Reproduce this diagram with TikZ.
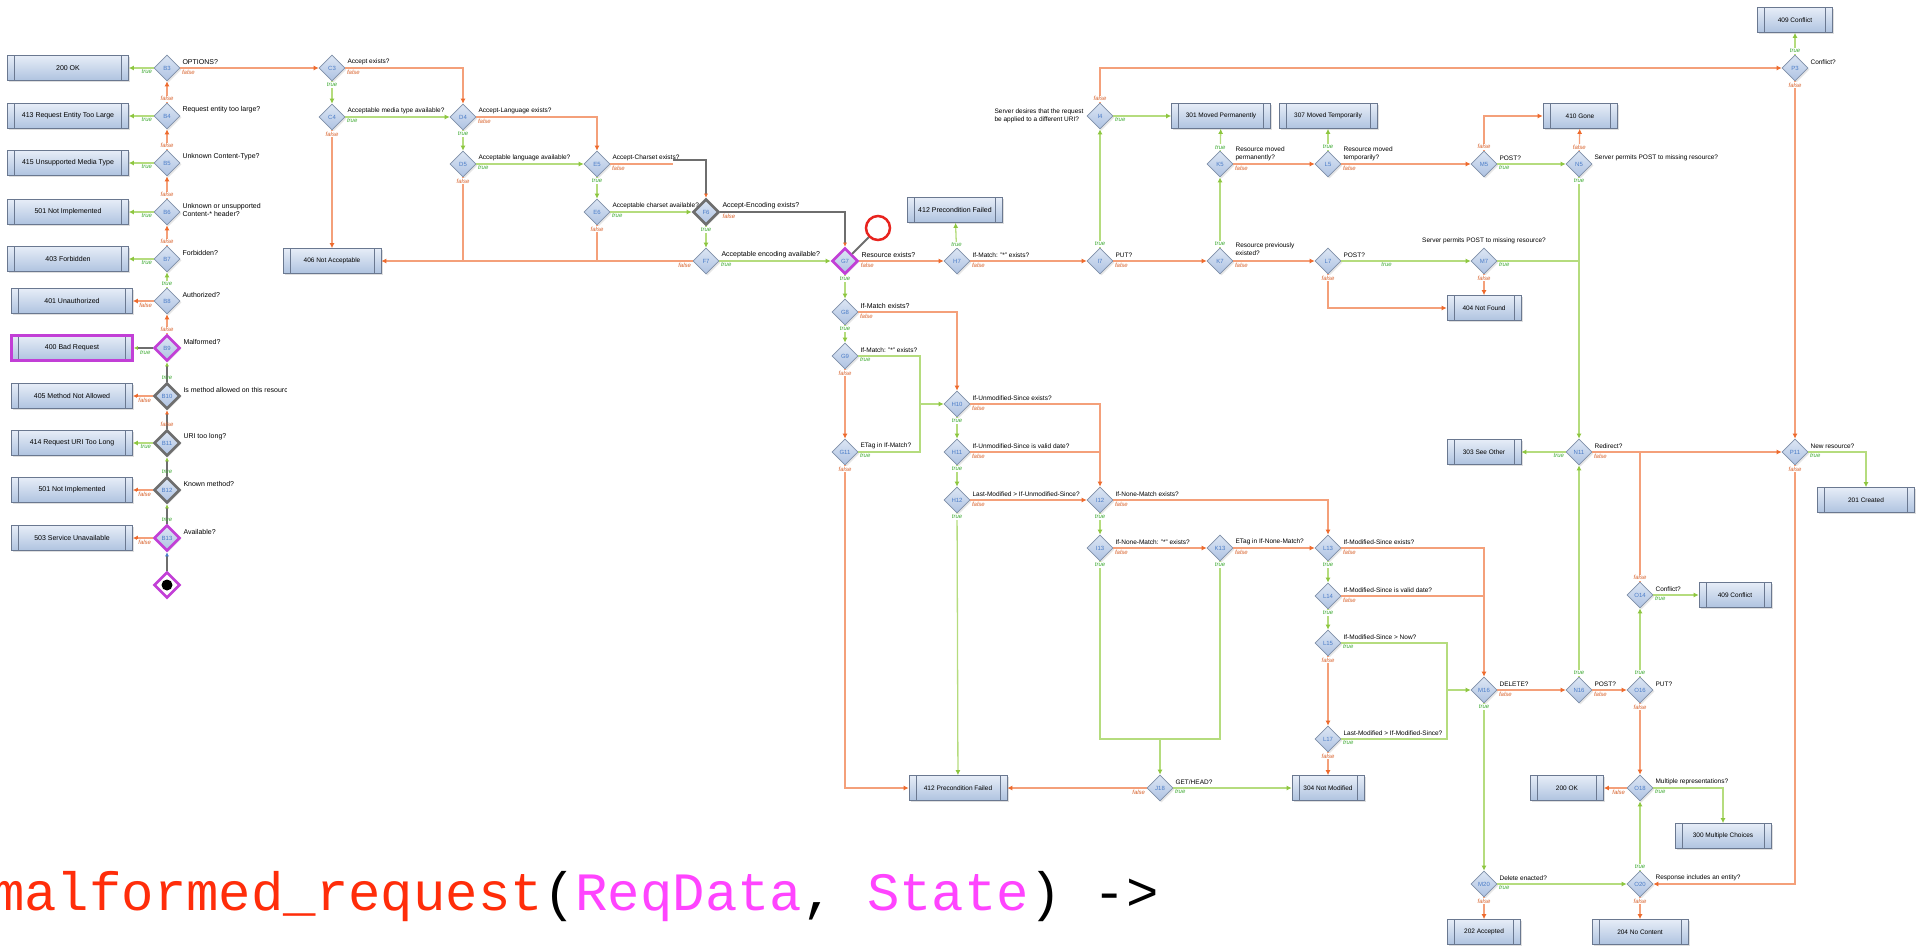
\documentclass[tikz,border=0pt]{standalone}
\usepackage{fontspec}
\setmainfont{Liberation Sans}
\newfontfamily\codefont{Liberation Mono}
\usetikzlibrary{positioning, shapes.geometric, arrows.meta, shadows}

\definecolor{fline}{HTML}{F4A07A}
\definecolor{fhead}{HTML}{EE6A2C}
\definecolor{flab}{HTML}{D8622C}
\definecolor{tline}{HTML}{B5DC7E}
\definecolor{thead}{HTML}{8DC63F}
\definecolor{tlab}{HTML}{3FAA34}
\definecolor{boxtop}{HTML}{E6EDF7}
\definecolor{boxbot}{HTML}{AFC3E0}
\definecolor{boxline}{HTML}{6A7890}
\definecolor{dectop}{HTML}{DCE6F4}
\definecolor{decbot}{HTML}{AEC2E2}
\definecolor{decline}{HTML}{7F8FA8}
\definecolor{decid}{HTML}{4A7CC8}
\definecolor{hotgray}{HTML}{6E6E6E}
\definecolor{mag}{HTML}{C23FD6}
\definecolor{pinred}{HTML}{E8231E}
\definecolor{codered}{HTML}{FF2D0A}
\definecolor{codemag}{HTML}{FF44FF}

\tikzset{
  resp/.style={draw=boxline, line width=0.7pt, top color=boxtop, bottom color=boxbot,
    minimum width=#1, minimum height=25pt, inner sep=0pt,
    font=\fontsize{6.5}{7.5}\selectfont,
    drop shadow={shadow xshift=1.5pt, shadow yshift=-1.5pt, opacity=0.25},
    path picture={\draw[boxline, line width=0.6pt]
      ([xshift=7pt]path picture bounding box.north west) -- ([xshift=7pt]path picture bounding box.south west)
      ([xshift=-7pt]path picture bounding box.north east) -- ([xshift=-7pt]path picture bounding box.south east);}},
  resp/.default=98pt,
  crisp/.style={font=\fontsize{7}{8}\selectfont},
  dec/.style={diamond, aspect=1, draw=decline, line width=0.7pt, top color=dectop, bottom color=decbot,
    minimum width=26pt, minimum height=26pt, inner sep=0pt, text=decid,
    font=\fontsize{6}{6}\selectfont,
    drop shadow={shadow xshift=1.5pt, shadow yshift=-1.5pt, opacity=0.2}},
  hotdec/.style={dec, draw=hotgray, line width=2.6pt},
  magdec/.style={dec, draw=mag, line width=2.6pt},
  yesarr/.style={draw=tline, line width=1.3pt, -{Latex[length=5pt,width=5pt,color=thead]}},
  noarr/.style={draw=fline, line width=1.3pt, -{Latex[length=5pt,width=5pt,color=fhead]}},
  hotline/.style={draw=hotgray, line width=2.6pt},
  yestxt/.style={font=\fontsize{6}{7}\selectfont\itshape, text=tlab, inner sep=1pt, fill=white},
  notxt/.style={font=\fontsize{6}{7}\selectfont\itshape, text=flab, inner sep=1pt, fill=white},
  ql/.style={font=\fontsize{7}{8}\selectfont, inner sep=1pt, align=left},
  qs/.style={font=\fontsize{6.5}{7.5}\selectfont, inner sep=1pt, align=left},
}

\begin{document}
\begin{tikzpicture}[x=1pt, y=-1pt]
  \useasboundingbox (0,0) rectangle (1923,946);

  % column B
  \node[resp=121pt, crisp] (ok200) at (68,68) {200 OK};
  \node[resp=121pt, crisp] (tooLarge) at (68,116) {413 Request Entity Too Large};
  \node[resp=121pt, crisp] (unsupMedia) at (68,163) {415 Unsupported Media Type};
  \node[resp=121pt, crisp] (notImplA) at (68,212) {501 Not Implemented};
  \node[resp=121pt, crisp] (forbidden) at (68,259) {403 Forbidden};
  \node[resp=121pt, crisp] (unauth) at (72,301) {401 Unauthorized};
  \node[resp=121pt, crisp, draw=mag, line width=2.6pt] (badReq) at (72,348) {400 Bad Request};
  \node[resp=121pt, crisp] (notAllowed) at (72,396) {405 Method Not Allowed};
  \node[resp=121pt, crisp] (uriLong) at (72,443) {414 Request URI Too Long};
  \node[resp=121pt, crisp] (notImplB) at (72,490) {501 Not Implemented};
  \node[resp=121pt, crisp] (unavail) at (72,538) {503 Service Unavailable};

  \node[dec] (B3) at (167,68) {B3};
  \node[dec] (B4) at (167,116) {B4};
  \node[dec] (B5) at (167,163) {B5};
  \node[dec] (B6) at (167,212) {B6};
  \node[dec] (B7) at (167,259) {B7};
  \node[dec] (B8) at (167,301) {B8};
  \node[magdec] (B9) at (167,348) {B9};
  \node[hotdec] (B10) at (167,396) {B10};
  \node[hotdec] (B11) at (167,443) {B11};
  \node[hotdec] (B12) at (167,490) {B12};
  \node[magdec] (B13) at (167,538) {B13};
  \node[diamond, aspect=1, minimum width=26pt, minimum height=26pt, inner sep=0pt,
        draw=mag, line width=2.6pt, fill=white] (start) at (167,585) {};
  \node[circle, fill=black, minimum size=11pt, inner sep=0pt] (dot) at (start) {};

  \node[ql, right=1pt of B3.east, yshift=6pt] (qB3) {OPTIONS?};
  \node[ql, right=1pt of B4.east, yshift=6pt] (qB4) {Request entity too large?};
  \node[ql, right=1pt of B5.east, yshift=6pt] (qB5) {Unknown Content-Type?};
  \node[ql, right=1pt of B6.east, yshift=2pt] (qB6) {Unknown or unsupported\\Content-* header?};
  \node[ql, right=1pt of B7.east, yshift=6pt] (qB7) {Forbidden?};
  \node[ql, right=1pt of B8.east, yshift=6pt] (qB8) {Authorized?};
  \node[ql, right=1pt of B9.east, yshift=6pt] (qB9) {Malformed?};
  \begin{scope}
    \clip (180,380) rectangle (286,410);
    \node[ql, right=1pt of B10.east, yshift=6pt] (qB10) {Is method allowed on this resource?};
  \end{scope}
  \node[ql, right=1pt of B11.east, yshift=6pt] (qB11) {URI too long?};
  \node[ql, right=1pt of B12.east, yshift=6pt] (qB12) {Known method?};
  \node[ql, right=1pt of B13.east, yshift=6pt] (qB13) {Available?};

  \draw[yesarr] (B3) -- node[yestxt, pos=0, below left]{true} (ok200);
  \draw[noarr] (B4) -- node[notxt, pos=0, above]{false} (B3);
  \draw[yesarr] (B4) -- node[yestxt, pos=0, below left]{true} (tooLarge);
  \draw[noarr] (B5) -- node[notxt, pos=0, above]{false} (B4);
  \draw[yesarr] (B5) -- node[yestxt, pos=0, below left]{true} (unsupMedia);
  \draw[noarr] (B6) -- node[notxt, pos=0, above]{false} (B5);
  \draw[yesarr] (B6) -- node[yestxt, pos=0, below left]{true} (notImplA);
  \draw[noarr] (B7) -- node[notxt, pos=0, above]{false} (B6);
  \draw[yesarr] (B7) -- node[yestxt, pos=0, below left]{true} (forbidden);
  \draw[yesarr] (B8) -- node[yestxt, pos=0, above]{true} (B7);
  \draw[noarr] (B8) -- node[notxt, pos=0, below left]{false} (unauth);
  \draw[noarr] (B9) -- node[notxt, pos=0, above]{false} (B8);
  \draw[hotline, -{Latex[length=4pt,width=4pt,color=thead]}] (B9) -- node[yestxt, pos=0, below left, fill=none]{true} (badReq);
  \draw[hotline, -{Latex[length=4pt,width=4pt,color=thead]}] (B10) -- node[yestxt, pos=0, above, fill=none]{true} (B9);
  \draw[noarr] (B10) -- node[notxt, pos=0, below left]{false} (notAllowed);
  \draw[hotline, -{Latex[length=4pt,width=4pt,color=fhead]}] (B11) -- node[notxt, pos=0, above, fill=none]{false} (B10);
  \draw[yesarr] (B11) -- node[yestxt, pos=0, below left]{true} (uriLong);
  \draw[hotline, -{Latex[length=4pt,width=4pt,color=thead]}] (B12) -- node[yestxt, pos=0, above, fill=none]{true} (B11);
  \draw[noarr] (B12) -- node[notxt, pos=0, below left]{false} (notImplB);
  \draw[hotline, -{Latex[length=4pt,width=4pt,color=thead]}] (B13) -- node[yestxt, pos=0, above, fill=none]{true} (B12);
  \draw[noarr] (B13) -- node[notxt, pos=0, below left]{false} (unavail);
  \draw[hotline, -{Latex[length=4pt,width=4pt,color=decid]}] (start) -- (B13);

  % columns C to G
  \node[dec] (C3) at (332,68) {C3};
  \node[dec] (C4) at (332,117) {C4};
  \node[dec] (D4) at (463,117) {D4};
  \node[dec] (D5) at (463,164) {D5};
  \node[dec] (E5) at (597,164) {E5};
  \node[dec] (E6) at (597,212) {E6};
  \node[hotdec] (F6) at (706,212) {F6};
  \node[dec] (F7) at (706,261) {F7};
  \node[magdec] (G7) at (845,261) {G7};
  \node[dec] (G8) at (845,312) {G8};
  \node[dec] (G9) at (845,356) {G9};
  \node[dec] (G11) at (845,452) {G11};
  \node[resp=98pt] (notAcc) at (332,261) {406 Not Acceptable};
  \node[resp=95pt, crisp] (precondA) at (955,210) {412 Precondition Failed};
  \node[circle, draw=pinred, line width=2.5pt, minimum size=24pt] (pin) at (878,228) {};
  \coordinate (hx) at (673,160);
  \coordinate (jG) at (920,404);

  \node[qs, right=1pt of C3.east, yshift=6pt] (qC3) {Accept exists?};
  \node[qs, right=1pt of C4.east, yshift=6pt] (qC4) {Acceptable media type available?};
  \node[qs, right=1pt of D4.east, yshift=6pt] (qD4) {Accept-Language exists?};
  \node[qs, right=1pt of D5.east, yshift=6pt] (qD5) {Acceptable language available?};
  \node[qs, right=1pt of E5.east, yshift=6pt] (qE5) {Accept-Charset exists?};
  \node[qs, right=1pt of E6.east, yshift=6pt] (qE6) {Acceptable charset available?};
  \node[ql, right=1pt of F6.east, yshift=6pt] (qF6) {Accept-Encoding exists?};
  \node[ql, right=1pt of F7.east, yshift=6pt] (qF7) {Acceptable encoding available?};
  \node[ql, right=1pt of G7.east, yshift=6pt] (qG7) {Resource exists?};
  \node[ql, right=1pt of G8.east, yshift=6pt] (qG8) {If-Match exists?};
  \node[qs, right=1pt of G9.east, yshift=6pt] (qG9) {If-Match: "*" exists?};
  \node[qs, right=1pt of G11.east, yshift=6pt] (qG11) {ETag in If-Match?};

  \draw[noarr] (B3) -- node[notxt, pos=0, below right]{false} (C3);
  \draw[yesarr] (C3) -- node[yestxt, pos=0, below]{true} (C4);
  \draw[noarr] (C3) -| node[notxt, pos=0, below right]{false} (D4);
  \draw[yesarr] (C4) -- node[yestxt, pos=0, below right]{true} (D4);
  \draw[noarr] (C4) -- node[notxt, pos=0, below]{false} (notAcc);
  \draw[yesarr] (D4) -- node[yestxt, pos=0, below]{true} (D5);
  \draw[noarr] (D4) -| node[notxt, pos=0, below right]{false} (E5);
  \draw[yesarr] (D5) -- node[yestxt, pos=0, below right]{true} (E5);
  \draw[noarr, -] (D5) -- node[notxt, pos=0, below]{false} (D5 |- notAcc);
  \draw[yesarr] (E5) -- node[yestxt, pos=0, below]{true} (E6);
  \draw[noarr, -] (E5) -- node[notxt, pos=0, below right]{false} (hx |- E5);
  \draw[hotline, -{Latex[length=4pt,width=4pt,color=fhead]}] (hx) -| (F6);
  \draw[yesarr] (E6) -- node[yestxt, pos=0, below right]{true} (F6);
  \draw[noarr, -] (E6) -- node[notxt, pos=0, below]{false} (E6 |- notAcc);
  \draw[yesarr] (F6) -- node[yestxt, pos=0, below]{true} (F7);
  \draw[hotline, -{Latex[length=4pt,width=4pt,color=fhead]}] (F6) -| node[notxt, pos=0, below right, fill=none]{false} (G7);
  \draw[yesarr] (F7) -- node[yestxt, pos=0, below right]{true} (G7);
  \draw[noarr] (F7) -- node[notxt, pos=0, below left]{false} (notAcc);
  \draw[hotline, line width=2pt] (G7) -- (pin);
  \draw[yesarr] (G7) -- node[yestxt, pos=0, below]{true} (G8);
  \draw[yesarr] (G8) -- node[yestxt, pos=0, below]{true} (G9);
  \draw[noarr] (G9) -- node[notxt, pos=0, below]{false} (G11);
  \draw[yesarr, -] (G9) -| node[yestxt, pos=0, below right]{true} (jG);
  \draw[yesarr, -] (G11) -| node[yestxt, pos=0, below right]{true} (jG);

  % columns H to L
  \node[dec] (H7) at (957,261) {H7};
  \node[dec] (H10) at (957,404) {H10};
  \node[dec] (H11) at (957,452) {H11};
  \node[dec] (H12) at (957,500) {H12};
  \node[dec] (I4) at (1100,116) {I4};
  \node[dec] (I7) at (1100,261) {I7};
  \node[dec] (I12) at (1100,500) {I12};
  \node[dec] (I13) at (1100,548) {I13};
  \node[dec] (J18) at (1160,788) {J18};
  \node[dec] (K5) at (1220,164) {K5};
  \node[dec] (K7) at (1220,261) {K7};
  \node[dec] (K13) at (1220,548) {K13};
  \node[dec] (L5) at (1328,164) {L5};
  \node[dec] (L7) at (1328,261) {L7};
  \node[dec] (L13) at (1328,548) {L13};
  \node[dec] (L14) at (1328,596) {L14};
  \node[dec] (L15) at (1328,643) {L15};
  \node[dec] (L17) at (1328,739) {L17};
  \node[resp=98pt] (precondB) at (958,788) {412 Precondition Failed};
  \node[resp=72pt] (notMod) at (1328,788) {304 Not Modified};
  \node[resp=99pt] (movedPerm) at (1221,116) {301 Moved Permanently};
  \node[resp=98pt] (movedTemp) at (1328,116) {307 Moved Temporarily};
  \coordinate (jK) at (1160,739);
  \coordinate (jM) at (1447,690);

  \node[qs, right=1pt of H7.east, yshift=6pt] (qH7) {If-Match: "*" exists?};
  \node[qs, right=1pt of H10.east, yshift=6pt] (qH10) {If-Unmodified-Since exists?};
  \node[qs, right=1pt of H11.east, yshift=6pt] (qH11) {If-Unmodified-Since is valid date?};
  \node[qs, right=1pt of H12.east, yshift=6pt] (qH12) {Last-Modified > If-Unmodified-Since?};
  \node[qs, left=2pt of I4.west] (qI4) {Server desires that the request\\be applied to a different URI?};
  \node[qs, right=1pt of I7.east, yshift=6pt] (qI7) {PUT?};
  \node[qs, right=1pt of I12.east, yshift=6pt] (qI12) {If-None-Match exists?};
  \node[qs, right=1pt of I13.east, yshift=6pt] (qI13) {If-None-Match: "*" exists?};
  \node[qs, right=1pt of J18.east, yshift=6pt] (qJ18) {GET/HEAD?};
  \node[qs, right=1pt of K5.east, yshift=10pt] (qK5) {Resource moved\\permanently?};
  \node[qs, right=1pt of K7.east, yshift=12pt] (qK7) {Resource previously\\existed?};
  \node[qs, right=1pt of K13.east, yshift=6pt] (qK13) {ETag in If-None-Match?};
  \node[qs, right=1pt of L5.east, yshift=10pt] (qL5) {Resource moved\\temporarily?};
  \node[qs, right=1pt of L7.east, yshift=6pt] (qL7) {POST?};
  \node[qs, right=1pt of L13.east, yshift=6pt] (qL13) {If-Modified-Since exists?};
  \node[qs, right=1pt of L14.east, yshift=6pt] (qL14) {If-Modified-Since is valid date?};
  \node[qs, right=1pt of L15.east, yshift=6pt] (qL15) {If-Modified-Since > Now?};
  \node[qs, right=1pt of L17.east, yshift=6pt] (qL17) {Last-Modified > If-Modified-Since?};

  \draw[noarr] (G7) -- node[notxt, pos=0, below right]{false} (H7);
  \draw[yesarr] (H7) -- node[yestxt, pos=0, above]{true} (precondA);
  \draw[noarr] (H7) -- node[notxt, pos=0, below right]{false} (I7);
  \draw[noarr] (G8) -| node[notxt, pos=0, below right]{false} (H10);
  \draw[yesarr] (jG) -- (H10);
  \draw[noarr] (G11) |- node[notxt, pos=0, below]{false} (precondB);
  \draw[yesarr] (H10) -- node[yestxt, pos=0, below]{true} (H11);
  \draw[noarr] (H10) -| node[notxt, pos=0, below right]{false} (I12);
  \draw[yesarr] (H11) -- node[yestxt, pos=0, below]{true} (H12);
  \draw[noarr, -] (H11) -| node[notxt, pos=0, below right]{false} (H10 -| I12);
  \draw[yesarr] (H12) -- node[yestxt, pos=0, below]{true} (precondB);
  \draw[noarr] (H12) -- node[notxt, pos=0, below right]{false} (I12);
  \draw[yesarr] (I12) -- node[yestxt, pos=0, below]{true} (I13);
  \draw[noarr] (I12) -| node[notxt, pos=0, below right]{false} (L13);
  \draw[noarr] (I13) -- node[notxt, pos=0, below right]{false} (K13);
  \draw[yesarr, -] (I13) |- node[yestxt, pos=0, below]{true} (jK);
  \draw[noarr] (K13) -- node[notxt, pos=0, below right]{false} (L13);
  \draw[yesarr, -] (K13) |- node[yestxt, pos=0, below]{true} (jK);
  \draw[yesarr] (jK) -- (J18);
  \draw[yesarr] (J18) -- node[yestxt, pos=0, below right]{true} (notMod);
  \draw[noarr] (J18) -- node[notxt, pos=0, below left]{false} (precondB);
  \draw[yesarr] (L13) -- node[yestxt, pos=0, below]{true} (L14);
  \draw[yesarr] (L14) -- node[yestxt, pos=0, below]{true} (L15);
  \draw[noarr] (L15) -- node[notxt, pos=0, below]{false} (L17);
  \draw[noarr] (L17) -- node[notxt, pos=0, below]{false} (notMod);
  \draw[yesarr] (I4) -- node[yestxt, pos=0, below right]{true} (movedPerm);
  \draw[yesarr] (I7) -- node[yestxt, pos=0, above]{true} (I4);
  \draw[noarr] (I7) -- node[notxt, pos=0, below right]{false} (K7);
  \draw[yesarr] (K7) -- node[yestxt, pos=0, above]{true} (K5);
  \draw[noarr] (K7) -- node[notxt, pos=0, below right]{false} (L7);
  \draw[yesarr] (K5) -- node[yestxt, pos=0, above]{true} (movedPerm);
  \draw[noarr] (K5) -- node[notxt, pos=0, below right]{false} (L5);
  \draw[yesarr] (L5) -- node[yestxt, pos=0, above]{true} (movedTemp);

  % columns M to P
  \node[dec] (M5) at (1484,164) {M5};
  \node[dec] (M7) at (1484,261) {M7};
  \node[dec] (M16) at (1484,690) {M16};
  \node[dec] (M20) at (1484,884) {M20};
  \node[dec] (N5) at (1579,164) {N5};
  \node[dec] (N11) at (1579,452) {N11};
  \node[dec] (N16) at (1579,690) {N16};
  \node[dec] (O14) at (1640,595) {O14};
  \node[dec] (O16) at (1640,690) {O16};
  \node[dec] (O18) at (1640,788) {O18};
  \node[dec] (O20) at (1640,884) {O20};
  \node[dec] (P3) at (1795,68) {P3};
  \node[dec] (P11) at (1795,452) {P11};
  \node[resp=74pt] (gone) at (1580,116) {410 Gone};
  \node[resp=75pt] (conflictA) at (1795,20) {409 Conflict};
  \node[resp=74pt] (notFound) at (1484,308) {404 Not Found};
  \node[resp=74pt] (seeOther) at (1484,452) {303 See Other};
  \node[resp=97pt] (created) at (1866,500) {201 Created};
  \node[resp=72pt] (conflictB) at (1735,595) {409 Conflict};
  \node[resp=73pt] (ok200b) at (1567,788) {200 OK};
  \node[resp=96pt] (multi) at (1723,836) {300 Multiple Choices};
  \node[resp=73pt] (accepted) at (1484,932) {202 Accepted};
  \node[resp=96pt] (noContent) at (1640,932) {204 No Content};

  \node[qs, right=1pt of M5.east, yshift=6pt] (qM5) {POST?};
  \node[qs, above=3pt of M7.north] (qM7) {Server permits POST to missing resource?};
  \node[qs, right=1pt of M16.east, yshift=6pt] (qM16) {DELETE?};
  \node[qs, right=1pt of M20.east, yshift=6pt] (qM20) {Delete enacted?};
  \node[qs, right=1pt of N5.east, yshift=6pt] (qN5) {Server permits POST to missing resource?};
  \node[qs, right=1pt of N11.east, yshift=6pt] (qN11) {Redirect?};
  \node[qs, right=1pt of N16.east, yshift=6pt] (qN16) {POST?};
  \node[qs, right=1pt of O14.east, yshift=6pt] (qO14) {Conflict?};
  \node[qs, right=1pt of O16.east, yshift=6pt] (qO16) {PUT?};
  \node[qs, right=1pt of O18.east, yshift=6pt] (qO18) {Multiple representations?};
  \node[qs, right=1pt of O20.east, yshift=6pt] (qO20) {Response includes an entity?};
  \node[qs, right=1pt of P3.east, yshift=6pt] (qP3) {Conflict?};
  \node[qs, right=1pt of P11.east, yshift=6pt] (qP11) {New resource?};

  \draw[noarr] (L5) -- node[notxt, pos=0, below right]{false} (M5);
  \draw[yesarr] (L7) -- node[yestxt, pos=0.35, below]{true} (M7);
  \draw[noarr] (L7) |- node[notxt, pos=0, below]{false} (notFound);
  \draw[noarr] (L13) -| node[notxt, pos=0, below right]{false} (M16);
  \draw[noarr, -] (L14) -| node[notxt, pos=0, below right]{false} (L13 -| M16);
  \draw[yesarr, -] (L15) -| node[yestxt, pos=0, below right]{true} (jM);
  \draw[yesarr, -] (L17) -| node[yestxt, pos=0, below right]{true} (jM);
  \draw[yesarr] (jM) -- (M16);
  \draw[yesarr] (M5) -- node[yestxt, pos=0, below right]{true} (N5);
  \draw[noarr] (M5) |- node[notxt, pos=0, above]{false} (gone);
  \draw[yesarr, -] (M7) -- node[yestxt, pos=0, below right]{true} (M7 -| N5);
  \draw[noarr] (M7) -- node[notxt, pos=0, below]{false} (notFound);
  \draw[noarr] (N5) -- node[notxt, pos=0, above]{false} (gone);
  \draw[yesarr] (N5) -- node[yestxt, pos=0, below]{true} (N11);
  \draw[yesarr] (N11) -- node[yestxt, pos=0, below left]{true} (seeOther);
  \draw[noarr] (N11) -- node[notxt, pos=0, below right]{false} (P11);
  \draw[yesarr] (M16) -- node[yestxt, pos=0, below]{true} (M20);
  \draw[noarr] (M16) -- node[notxt, pos=0, below right]{false} (N16);
  \draw[yesarr] (N16) -- node[yestxt, pos=0, above]{true} (N11);
  \draw[noarr] (N16) -- node[notxt, pos=0, below right]{false} (O16);
  \draw[yesarr] (O16) -- node[yestxt, pos=0, above]{true} (O14);
  \draw[noarr] (O16) -- node[notxt, pos=0, below]{false} (O18);
  \draw[yesarr] (O14) -- node[yestxt, pos=0, below right]{true} (conflictB);
  \draw[noarr, -] (O14) -- node[notxt, pos=0, above]{false} (O14 |- N11);
  \draw[yesarr] (O18) -| node[yestxt, pos=0, below right]{true} (multi);
  \draw[noarr] (O18) -- node[notxt, pos=0, below left]{false} (ok200b);
  \draw[yesarr] (O20) -- node[yestxt, pos=0, above]{true} (O18);
  \draw[noarr] (O20) -- node[notxt, pos=0, below]{false} (noContent);
  \draw[yesarr] (M20) -- node[yestxt, pos=0, below right]{true} (O20);
  \draw[noarr] (M20) -- node[notxt, pos=0, below]{false} (accepted);
  \draw[noarr] (I4) |- node[notxt, pos=0, above]{false} (P3);
  \draw[yesarr] (P3) -- node[yestxt, pos=0, above]{true} (conflictA);
  \draw[noarr] (P3) -- node[notxt, pos=0, below]{false} (P11);
  \draw[yesarr] (P11) -| node[yestxt, pos=0, below right]{true} (created);
  \draw[noarr] (P11) |- node[notxt, pos=0, below]{false} (O20);

  % code below the chart
  \node[anchor=base west, inner sep=0pt, font=\codefont\fontsize{54}{60}\selectfont] (code) at (-8,910)
    {\textcolor{codered}{malformed\_request}(\textcolor{codemag}{ReqData}, \textcolor{codemag}{State}) ->};
\end{tikzpicture}
\end{document}
